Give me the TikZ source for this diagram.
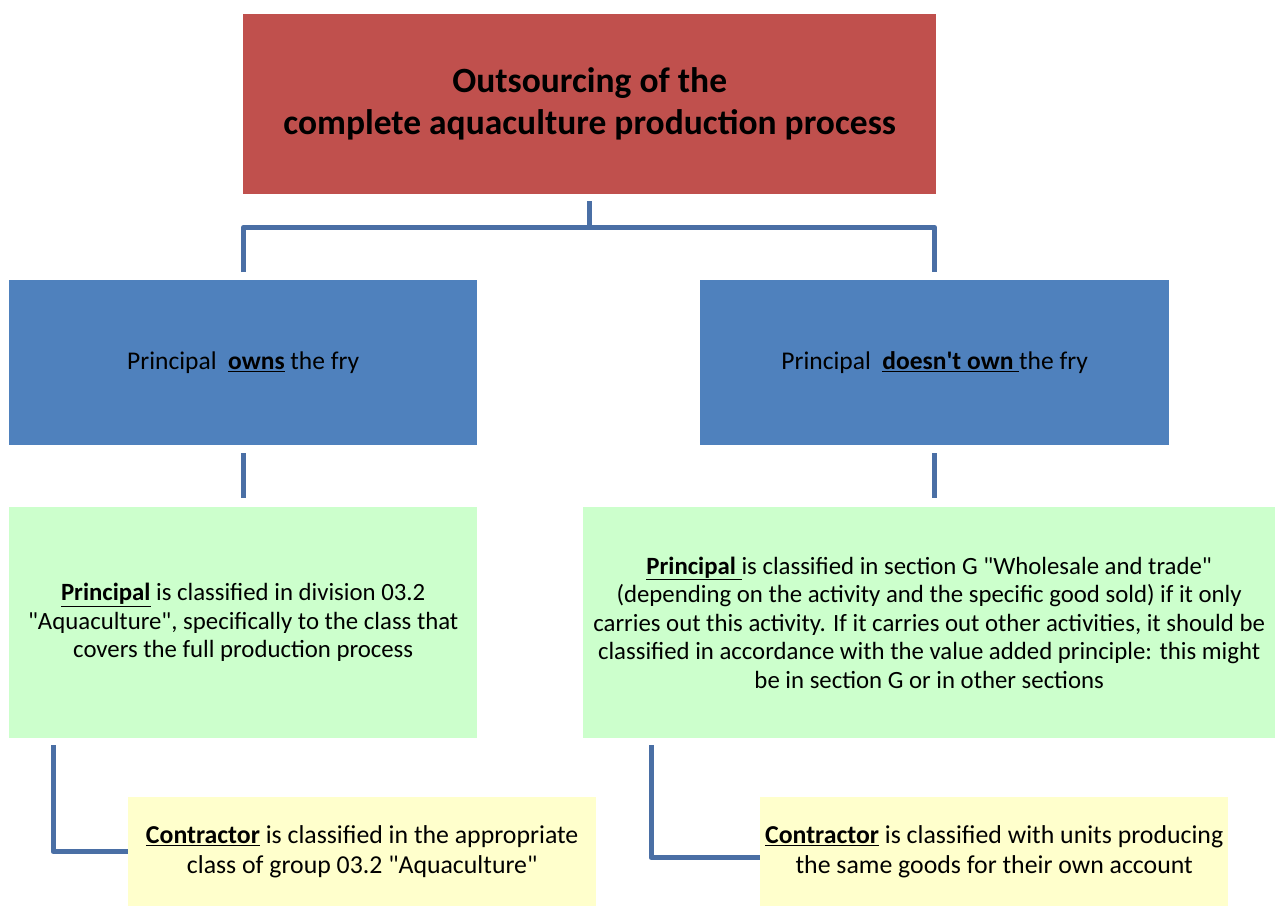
\documentclass[tikz,border=0pt]{standalone}
\usepackage{fontspec}
\setmainfont{Carlito}
\usetikzlibrary{calc}
\definecolor{redbox}{HTML}{C0504D}
\definecolor{bluebox}{HTML}{4F81BD}
\definecolor{greenbox}{HTML}{CCFFCC}
\definecolor{yellowbox}{HTML}{FFFFCC}
\definecolor{conncol}{HTML}{4A6FA5}
\newcommand{\qq}{\textquotedbl}
\tikzset{
  box/.style={anchor=north west, inner sep=0pt, align=center, text=black},
  topbox/.style={box, fill=redbox, font=\fontsize{35.5}{42}\selectfont\bfseries},
  midbox/.style={box, fill=bluebox, font=\fontsize{25.5}{30}\selectfont},
  greenb/.style={box, fill=greenbox, font=\fontsize{24.8}{28.5}\selectfont},
  yellowb/.style={box, fill=yellowbox, font=\fontsize{25.8}{30}\selectfont},
  conn/.style={draw=conncol, line width=5pt, line join=round}
}
\begin{document}
\begin{tikzpicture}[x=1pt,y=-1pt]
\useasboundingbox (0,0) rectangle (1275,906);
\clip (0,0) rectangle (1275,906);
\fill[white] (0,0) rectangle (1275,906);
\node[topbox, minimum width=693pt, minimum height=180pt] (top) at (243,14)
  {Outsourcing of the\\complete aquaculture production process};
\node[midbox, minimum width=468pt, minimum height=165pt] (own) at (9,280)
  {Principal\ \ \underline{\textbf{owns}} the fry};
\node[midbox, minimum width=469pt, minimum height=165pt] (notown) at (700,280)
  {Principal\ \ \underline{\textbf{doesn\textquotesingle t own }}the fry};
\node[greenb, minimum width=468pt, minimum height=231pt] (gl) at (9,507)
  {\underline{\textbf{Principal}} is classified in division 03.2\\
   \qq Aquaculture\qq, specifically to the class that\\
   covers the full production process};
\node[greenb, minimum width=692pt, minimum height=231pt] (gr) at (583,507)
  {\underline{\textbf{Principal }}is classified in section G \qq Wholesale and trade\qq\\
   (depending on the activity and the specific good sold) if it only\\
   carries out this activity. If it carries out other activities, it should be\\
   classified in accordance with the value added principle: this might\\
   be in section G or in other sections};
\node[yellowb, minimum width=468pt, minimum height=109pt] (yl) at (128,797)
  {\underline{\textbf{Contractor}} is classified in the appropriate\\
   class of group 03.2 \qq Aquaculture\qq};
\node[yellowb, minimum width=468pt, minimum height=109pt] (yr) at (760,797)
  {\underline{\textbf{Contractor}} is classified with units producing\\
   the same goods for their own account};
% top connectors
\coordinate (bar) at ($(top.south)+(0,33)$);
\draw[conn] ($(top.south)+(0,7)$) -- (bar);
\draw[conn] ($(own.north)+(0,-8)$) |- (bar) -| ($(notown.north)+(0,-8)$);
% mid connectors
\draw[conn] ($(own.south)+(0,8)$) -- ($(gl.north -| own.south)+(0,-9)$);
\draw[conn] ($(notown.south)+(0,8)$) -- ($(gr.north -| notown.south)+(0,-9)$);
% elbow connectors
\draw[conn] ($(gl.south west)+(44,7)$) |- (yl.west);
\draw[conn] ($(gr.south west)+(68,7)$) |- ($(yr.west)+(0,6)$);
\end{tikzpicture}
\end{document}
